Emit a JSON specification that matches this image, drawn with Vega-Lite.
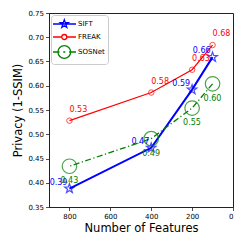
{
  "$schema": "https://vega.github.io/schema/vega-lite/v6.json",
  "width": 184,
  "height": 194,
  "autosize": {"type": "none"},
  "padding": {"left": 49, "top": 13, "right": 12, "bottom": 38},
  "background": "white",
  "config": {
    "font": "DejaVu Sans",
    "view": {"stroke": "#222222", "strokeWidth": 1},
    "axis": {
      "grid": false,
      "domainColor": "#222222",
      "domainWidth": 1,
      "tickColor": "#222222",
      "tickSize": 3.5,
      "tickWidth": 0.8,
      "labelFont": "DejaVu Sans",
      "labelFontSize": 7,
      "labelColor": "#000000",
      "titleFont": "DejaVu Sans",
      "titleFontSize": 11.5,
      "titleFontWeight": "normal",
      "titleColor": "#000000"
    }
  },
  "data": {
    "values": [
      {"series": "SIFT", "features": 800, "privacy": 0.388, "label": "0.39"},
      {"series": "SIFT", "features": 400, "privacy": 0.472, "label": "0.47"},
      {"series": "SIFT", "features": 200, "privacy": 0.592, "label": "0.59"},
      {"series": "SIFT", "features": 100, "privacy": 0.659, "label": "0.66"},
      {"series": "FREAK", "features": 800, "privacy": 0.528, "label": "0.53"},
      {"series": "FREAK", "features": 400, "privacy": 0.586, "label": "0.58"},
      {"series": "FREAK", "features": 200, "privacy": 0.633, "label": "0.63"},
      {"series": "FREAK", "features": 100, "privacy": 0.684, "label": "0.68"},
      {"series": "SOSNet", "features": 800, "privacy": 0.434, "label": "0.43"},
      {"series": "SOSNet", "features": 400, "privacy": 0.491, "label": "0.49"},
      {"series": "SOSNet", "features": 200, "privacy": 0.554, "label": "0.55"},
      {"series": "SOSNet", "features": 100, "privacy": 0.604, "label": "0.60"}
    ]
  },
  "encoding": {
    "x": {
      "field": "features", "type": "quantitative",
      "scale": {"domain": [900, 0], "nice": false, "zero": false},
      "axis": {"values": [0, 200, 400, 600, 800], "title": "Number of Features", "labelPadding": 2, "titlePadding": 3}
    },
    "y": {
      "field": "privacy", "type": "quantitative",
      "scale": {"domain": [0.35, 0.75], "nice": false, "zero": false},
      "axis": {"values": [0.35, 0.4, 0.45, 0.5, 0.55, 0.6, 0.65, 0.7, 0.75], "format": ".2f", "title": "Privacy (1-SSIM)", "labelPadding": 2, "titlePadding": 4}
    }
  },
  "layer": [
    {
      "transform": [{"filter": "datum.series === 'SIFT'"}],
      "mark": {"type": "line", "color": "#0000ff", "strokeWidth": 2},
      "encoding": {"order": {"field": "features", "type": "quantitative"}}
    },
    {
      "transform": [{"filter": "datum.series === 'FREAK'"}],
      "mark": {"type": "line", "color": "#ff0000", "strokeWidth": 1.2},
      "encoding": {"order": {"field": "features", "type": "quantitative"}}
    },
    {
      "transform": [{"filter": "datum.series === 'SOSNet'"}],
      "mark": {"type": "line", "color": "#008000", "strokeWidth": 1.3, "strokeDash": [6, 2.5, 1.2, 2.5]},
      "encoding": {"order": {"field": "features", "type": "quantitative"}}
    },
    {
      "transform": [{"filter": "datum.series === 'SIFT'"}],
      "mark": {"type": "point", "shape": "M0,-1L0.235,-0.324L0.951,-0.309L0.38,0.124L0.588,0.809L0,0.4L-0.588,0.809L-0.38,0.124L-0.951,-0.309L-0.235,-0.324Z", "size": 100, "filled": false, "color": "#0000ff", "strokeWidth": 1.2},
      "encoding": {"order": {"field": "features", "type": "quantitative"}}
    },
    {
      "transform": [{"filter": "datum.series === 'FREAK'"}],
      "mark": {"type": "point", "shape": "circle", "size": 30, "filled": false, "color": "#ff0000", "strokeWidth": 1},
      "encoding": {"order": {"field": "features", "type": "quantitative"}}
    },
    {
      "transform": [{"filter": "datum.series === 'SOSNet'"}],
      "mark": {"type": "point", "shape": "circle", "size": 210, "filled": false, "color": "#008000", "strokeWidth": 1.2},
      "encoding": {"order": {"field": "features", "type": "quantitative"}}
    },
    {
      "transform": [{"filter": "datum.series === 'SIFT'"}],
      "mark": {"type": "text", "align": "right", "baseline": "alphabetic", "dx": -2, "dy": -4, "fontSize": 8, "color": "#0000ff"},
      "encoding": {"text": {"field": "label"}}
    },
    {
      "transform": [{"filter": "datum.series === 'FREAK'"}],
      "mark": {"type": "text", "align": "left", "baseline": "alphabetic", "dx": 0, "dy": -9, "fontSize": 8, "color": "#ff0000"},
      "encoding": {"text": {"field": "label"}}
    },
    {
      "transform": [{"filter": "datum.series === 'SOSNet'"}],
      "mark": {"type": "text", "align": "left", "baseline": "alphabetic", "dx": -9, "dy": 17, "fontSize": 8, "color": "#008000"},
      "encoding": {"text": {"field": "label"}}
    },
    {
      "transform": [{"filter": "datum.features < 0"}],
      "mark": {"type": "point", "filled": false, "size": 100, "strokeWidth": 1.3, "opacity": 1},
      "encoding": {
        "color": {
          "field": "series", "type": "nominal",
          "scale": {"domain": ["SIFT", "FREAK", "SOSNet"], "range": ["#0000ff", "#ff0000", "#008000"]},
          "legend": {"title": null, "orient": "top-left", "offset": 2, "padding": 3, "symbolSize": 100, "symbolStrokeWidth": 1.3, "labelFontSize": 7, "labelFont": "DejaVu Sans", "labelColor": "#000000", "labelOffset": 12, "rowPadding": 0, "strokeColor": "#cccccc", "fillColor": "white", "cornerRadius": 3}
        },
        "shape": {
          "field": "series", "type": "nominal",
          "scale": {"domain": ["SIFT", "FREAK", "SOSNet"], "range": [
            "M-1.4,0H3.2M0.86,-0.85L1.06,-0.275L1.67,-0.263L1.18,0.105L1.36,0.688L0.86,0.34L0.36,0.688L0.54,0.105L0.05,-0.263L0.66,-0.275Z",
            "M-1.4,0H0.36M1.36,0H3.2M0.36,0A0.5,0.5,0,1,1,1.36,0A0.5,0.5,0,1,1,0.36,0Z",
            "M-1.4,0H-0.1M0.66,0H1.06M1.82,0H3.2M-0.41,0A1.27,1.27,0,1,1,2.13,0A1.27,1.27,0,1,1,-0.41,0Z"
          ]},
          "legend": {"title": null, "orient": "top-left", "offset": 2, "padding": 3, "symbolSize": 100, "symbolStrokeWidth": 1.3, "labelFontSize": 7, "labelFont": "DejaVu Sans", "labelColor": "#000000", "labelOffset": 12, "rowPadding": 0, "strokeColor": "#cccccc", "fillColor": "white", "cornerRadius": 3}
        }
      }
    }
  ]
}
